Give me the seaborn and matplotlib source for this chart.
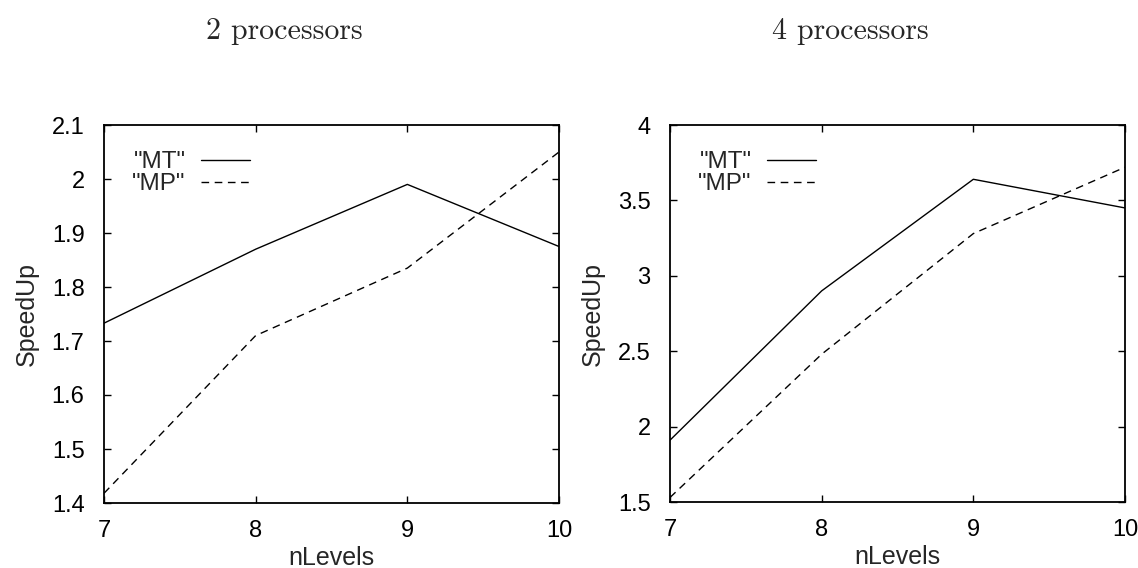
import matplotlib
matplotlib.use("Agg")
import matplotlib.pyplot as plt
import seaborn as sns

# data
nlevels = [7, 8, 9, 10]
mt_2proc = [1.733, 1.870, 1.990, 1.875]
mp_2proc = [1.418, 1.710, 1.835, 2.050]
mt_4proc = [1.91, 2.90, 3.64, 3.45]
mp_4proc = [1.53, 2.48, 3.28, 3.72]
titles = ["2 processors", "4 processors"]
ylims = [(1.4, 2.1), (1.5, 4.0)]
yticks = [[1.4, 1.5, 1.6, 1.7, 1.8, 1.9, 2.0, 2.1], [1.5, 2, 2.5, 3, 3.5, 4]]
yticklabels = [["1.4", "1.5", "1.6", "1.7", "1.8", "1.9", "2", "2.1"],
               ["1.5", "2", "2.5", "3", "3.5", "4"]]

sns.set_style("ticks")
plt.rcParams["font.family"] = ["Liberation Sans", "DejaVu Sans"]

W, H = 1138, 568
fig = plt.figure(figsize=(W / 100, H / 100), dpi=100)
# panel boxes in pixels: left, right, top, bottom
panels = [(104, 559, 125, 503), (670, 1125, 125, 502)]
title_x = [284, 850]
series = [(mt_2proc, mp_2proc), (mt_4proc, mp_4proc)]

for i in range(2):
    l, r, t, b = panels[i]
    ax = fig.add_axes([l / W, 1 - b / H, (r - l) / W, (b - t) / H])
    mt, mp = series[i]
    sns.lineplot(x=nlevels, y=mt, ax=ax, color="black", lw=1.0, label='"MT"')
    sns.lineplot(x=nlevels, y=mp, ax=ax, color="black", lw=1.0, label='"MP"')
    ax.lines[1].set_dashes((5.5, 4))
    ax.set_xlim(7, 10)
    ax.set_ylim(*ylims[i])
    ax.set_xticks(nlevels)
    ax.set_xticklabels([str(v) for v in nlevels])
    ax.set_yticks(yticks[i])
    ax.set_yticklabels(yticklabels[i])
    ax.tick_params(direction="in", length=5, width=1, labelsize=17,
                   top=True, right=True, colors="black")
    ax.tick_params(axis="x", pad=12)
    ax.tick_params(axis="y", pad=14)
    for s in ax.spines.values():
        s.set_linewidth(1.3)
        s.set_color("black")
    ax.set_xlabel("nLevels", fontsize=18, labelpad=3)
    ax.set_ylabel("SpeedUp", fontsize=18, labelpad=9)
    leg = ax.legend(loc="upper left", frameon=False, markerfirst=False,
                    fontsize=17.5, handlelength=2.0, handletextpad=0.65,
                    labelspacing=0.0, borderpad=0.0, borderaxespad=0.0,
                    bbox_to_anchor=(0.062, 0.93))
    for txt in leg.get_texts():
        txt.set_ha("right")
    fig.text(title_x[i] / W, 1 - 31 / H, titles[i], family="cmr10",
             fontsize=21.5, ha="center", va="center")

fig.savefig("out.png", dpi=100)
